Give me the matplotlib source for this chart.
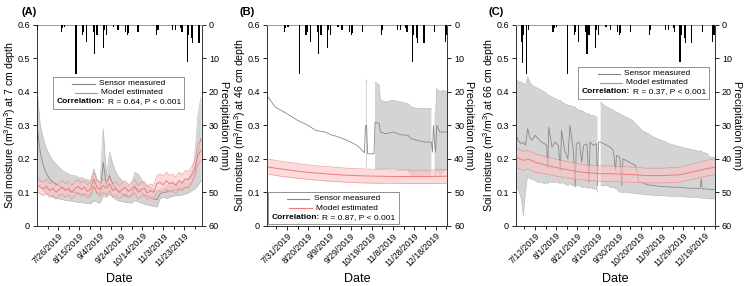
import numpy as np
import pandas as pd
import matplotlib
matplotlib.use("Agg")
import matplotlib.pyplot as plt
import matplotlib.dates as mdates
from matplotlib.lines import Line2D
from matplotlib.ticker import FuncFormatter, FixedLocator
from matplotlib.offsetbox import AnchoredOffsetbox, VPacker, HPacker, TextArea, DrawingArea

plt.rcParams['font.family'] = ['Liberation Sans', 'DejaVu Sans']
plt.rcParams['mathtext.fontset'] = 'custom'
plt.rcParams['mathtext.rm'] = 'Liberation Sans'

# ---- precipitation (mm), shared by all panels
precip_dates = ["2019-06-29", "2019-06-30", "2019-07-01", "2019-07-04", "2019-07-06",
                "2019-07-29", "2019-07-30", "2019-08-01", "2019-08-12", "2019-08-18",
                "2019-08-19", "2019-08-22", "2019-08-29", "2019-08-30", "2019-09-01",
                "2019-09-07", "2019-09-08", "2019-09-10", "2019-09-17", "2019-09-21",
                "2019-09-28", "2019-09-30", "2019-10-01", "2019-10-10", "2019-10-28",
                "2019-10-29", "2019-11-12", "2019-11-15", "2019-11-20", "2019-11-21",
                "2019-11-26", "2019-11-27", "2019-11-30", "2019-12-01", "2019-12-07",
                "2019-12-17", "2019-12-27", "2019-12-28"]
precip_mm = [5.0, 11.5, 3.0, 14.5, 1.5, 2.0, 0.8, 0.5, 14.5, 3.0,
             2.0, 5.0, 2.0, 8.7, 3.0, 7.0, 1.5, 3.0, 0.5, 1.5,
             2.0, 3.0, 2.5, 2.0, 3.0, 1.5, 1.5, 1.5, 1.0, 2.0,
             11.0, 3.0, 4.0, 5.5, 5.5, 2.0, 5.0, 3.0]

# ---- panel A: 7 cm depth (every 3 days from 7/6)
a_start, a_step = "2019-07-06", 3
a_sensor_mean = [0.30, 0.22, 0.18, 0.155, 0.14, 0.13, 0.125, 0.12, 0.115, 0.11,
                 0.105, 0.10, 0.10, 0.098, 0.095, 0.093, 0.092, 0.09, 0.12, 0.10,
                 0.095, 0.19, 0.12, 0.15, 0.125, 0.11, 0.10, 0.095, 0.09, 0.088,
                 0.09, 0.115, 0.11, 0.10, 0.092, 0.088, 0.085, 0.08, 0.078, 0.095,
                 0.10, 0.10, 0.105, 0.105, 0.108, 0.11, 0.11, 0.115, 0.118, 0.13,
                 0.15, 0.22, 0.26]
a_sensor_lo = [0.14, 0.12, 0.105, 0.095, 0.09, 0.085, 0.082, 0.080, 0.078, 0.076,
               0.075, 0.073, 0.072, 0.070, 0.070, 0.068, 0.067, 0.066, 0.075, 0.070,
               0.068, 0.090, 0.085, 0.095, 0.085, 0.078, 0.074, 0.072, 0.070, 0.068,
               0.068, 0.075, 0.072, 0.068, 0.065, 0.062, 0.060, 0.058, 0.056, 0.080,
               0.085, 0.082, 0.085, 0.088, 0.090, 0.090, 0.092, 0.095, 0.098, 0.105,
               0.110, 0.120, 0.135]
a_sensor_hi = [0.41, 0.30, 0.26, 0.23, 0.21, 0.195, 0.185, 0.175, 0.165, 0.160,
               0.155, 0.150, 0.150, 0.145, 0.145, 0.140, 0.138, 0.135, 0.170, 0.140,
               0.130, 0.290, 0.150, 0.220, 0.185, 0.160, 0.145, 0.135, 0.125, 0.120,
               0.125, 0.160, 0.155, 0.140, 0.125, 0.120, 0.115, 0.110, 0.105, 0.110,
               0.115, 0.120, 0.125, 0.125, 0.125, 0.128, 0.130, 0.135, 0.140, 0.160,
               0.200, 0.330, 0.385]
a_model_mean = [0.125, 0.115, 0.110, 0.118, 0.105, 0.112, 0.100, 0.108, 0.115, 0.105,
                0.112, 0.100, 0.110, 0.118, 0.108, 0.115, 0.102, 0.110, 0.140, 0.115,
                0.108, 0.120, 0.112, 0.125, 0.105, 0.112, 0.100, 0.108, 0.115, 0.102,
                0.110, 0.118, 0.100, 0.108, 0.112, 0.098, 0.105, 0.100, 0.125, 0.130,
                0.122, 0.135, 0.125, 0.130, 0.120, 0.135, 0.128, 0.140, 0.138, 0.150,
                0.170, 0.210, 0.225]
a_model_lo = [0.105, 0.095, 0.090, 0.098, 0.085, 0.092, 0.080, 0.088, 0.095, 0.085,
              0.092, 0.080, 0.090, 0.098, 0.088, 0.095, 0.082, 0.090, 0.118, 0.095,
              0.088, 0.100, 0.092, 0.105, 0.085, 0.092, 0.080, 0.088, 0.095, 0.082,
              0.090, 0.098, 0.080, 0.088, 0.092, 0.078, 0.085, 0.080, 0.100, 0.105,
              0.098, 0.110, 0.100, 0.105, 0.096, 0.110, 0.104, 0.115, 0.112, 0.125,
              0.145, 0.185, 0.195]
a_model_hi = [0.145, 0.135, 0.130, 0.140, 0.125, 0.132, 0.120, 0.128, 0.135, 0.125,
              0.132, 0.120, 0.130, 0.138, 0.128, 0.135, 0.122, 0.130, 0.160, 0.135,
              0.128, 0.140, 0.132, 0.145, 0.125, 0.132, 0.120, 0.128, 0.135, 0.122,
              0.130, 0.138, 0.120, 0.128, 0.132, 0.118, 0.125, 0.120, 0.150, 0.155,
              0.148, 0.160, 0.150, 0.155, 0.145, 0.160, 0.152, 0.165, 0.163, 0.175,
              0.195, 0.245, 0.258]
a_ticks = ["2019-07-26", "2019-08-15", "2019-09-04", "2019-09-24", "2019-10-14",
           "2019-11-03", "2019-11-23"]

# ---- panel B: 46 cm depth
b_sensor_dates = ["2019-07-12", "2019-07-20", "2019-07-31", "2019-08-10", "2019-08-20",
                  "2019-08-27", "2019-09-05", "2019-09-12", "2019-09-15", "2019-09-22",
                  "2019-09-29", "2019-10-05", "2019-10-10", "2019-10-12", "2019-10-13",
                  "2019-10-14", "2019-10-15", "2019-10-16", "2019-10-21", "2019-10-22",
                  "2019-10-26", "2019-10-27", "2019-11-01", "2019-11-08", "2019-11-15",
                  "2019-11-22", "2019-11-25", "2019-12-01", "2019-12-08", "2019-12-14",
                  "2019-12-15", "2019-12-16", "2019-12-17", "2019-12-18", "2019-12-19",
                  "2019-12-22", "2019-12-25", "2019-12-29"]
b_sensor_mean = [0.39, 0.355, 0.335, 0.315, 0.30, 0.285, 0.28, 0.27, 0.268, 0.26,
                 0.25, 0.24, 0.225, 0.218, 0.30, 0.30, 0.215, 0.215, 0.215, 0.31,
                 0.305, 0.28, 0.275, 0.28, 0.272, 0.27, 0.26, 0.255, 0.25, 0.25,
                 0.22, 0.30, 0.25, 0.22, 0.30, 0.28, 0.28, 0.28]
b_sensor_lo = [np.nan] * 14 + [0.175, 0.175, np.nan, np.nan, np.nan, 0.17,
                               0.17, 0.17, 0.17, 0.17, 0.168, 0.168, 0.15, 0.147, 0.146, 0.146,
                               np.nan, np.nan, 0.146, 0.146, 0.17, 0.15, 0.16, 0.17]
b_sensor_hi = [np.nan] * 14 + [0.435, 0.435, np.nan, np.nan, np.nan, 0.43,
                               0.42, 0.375, 0.37, 0.375, 0.37, 0.365, 0.355, 0.35, 0.35, 0.35,
                               np.nan, np.nan, 0.335, 0.335, 0.41, 0.40, 0.405, 0.40]
b_model_dates = ["2019-07-12", "2019-07-25", "2019-08-10", "2019-08-25", "2019-09-10",
                 "2019-09-25", "2019-10-10", "2019-10-25", "2019-11-10", "2019-11-25",
                 "2019-12-10", "2019-12-29"]
b_model_mean = [0.176, 0.170, 0.163, 0.158, 0.154, 0.151, 0.149, 0.148, 0.147, 0.147, 0.147, 0.148]
b_model_lo = [0.155, 0.148, 0.142, 0.137, 0.133, 0.130, 0.128, 0.127, 0.127, 0.126, 0.126, 0.127]
b_model_hi = [0.200, 0.193, 0.186, 0.180, 0.176, 0.172, 0.170, 0.168, 0.166, 0.166, 0.166, 0.168]
b_ticks = ["2019-07-31", "2019-08-20", "2019-09-09", "2019-09-29", "2019-10-19",
           "2019-11-08", "2019-11-28", "2019-12-18"]

# ---- panel C: 66 cm depth
c_sensor_dates = ["2019-06-24", "2019-06-27", "2019-06-29", "2019-07-01", "2019-07-03",
                  "2019-07-05", "2019-07-07", "2019-07-09", "2019-07-12", "2019-07-15",
                  "2019-07-18", "2019-07-21", "2019-07-23", "2019-07-24", "2019-07-25",
                  "2019-07-28", "2019-07-31", "2019-08-03", "2019-08-05", "2019-08-06",
                  "2019-08-09", "2019-08-12", "2019-08-14", "2019-08-17", "2019-08-19",
                  "2019-08-20", "2019-08-23", "2019-08-25", "2019-08-27", "2019-08-30",
                  "2019-09-01", "2019-09-02", "2019-09-05", "2019-09-08", "2019-09-09",
                  "2019-09-10", "2019-09-11", "2019-09-12", "2019-09-15", "2019-09-18",
                  "2019-09-21", "2019-09-24", "2019-09-26", "2019-09-27", "2019-09-30",
                  "2019-10-02", "2019-10-03", "2019-10-06", "2019-10-09", "2019-10-12",
                  "2019-10-15", "2019-10-18", "2019-10-21", "2019-10-24", "2019-10-27",
                  "2019-11-01", "2019-11-06", "2019-11-11", "2019-11-16", "2019-11-21",
                  "2019-11-26", "2019-12-01", "2019-12-06", "2019-12-11", "2019-12-15",
                  "2019-12-16", "2019-12-17", "2019-12-22", "2019-12-24", "2019-12-29"]
c_sensor_mean = [0.27, 0.25, 0.245, 0.25, 0.24, 0.29, 0.265, 0.255, 0.27, 0.26,
                 0.25, 0.245, 0.24, 0.17, 0.295, 0.235, 0.25, 0.24, 0.165, 0.285,
                 0.225, 0.20, 0.30, 0.23, 0.12, 0.245, 0.25, 0.19, 0.24, 0.245,
                 0.13, 0.25, 0.24, 0.245, 0.12, 0.25, 0.25, 0.25, 0.245, 0.24,
                 0.235, 0.225, 0.165, 0.21, 0.205, 0.12, 0.20, 0.195, 0.19, 0.185,
                 0.18, 0.13, 0.13, 0.125, 0.122, 0.12, 0.118, 0.117, 0.116, 0.115,
                 0.115, 0.113, 0.112, 0.112, 0.111, 0.14, 0.11, 0.11, 0.108, 0.108]
c_sensor_lo = [0.12, 0.10, 0.08, 0.03, 0.10, 0.15, 0.14, 0.14, 0.135, 0.13,
               0.13, 0.125, 0.13, 0.125, 0.13, 0.13, 0.13, 0.13, 0.125, 0.13,
               0.125, 0.12, 0.125, 0.12, 0.115, 0.12, 0.12, 0.115, 0.115, 0.115,
               0.11, 0.115, 0.11, 0.11, 0.10, np.nan, np.nan, 0.12, 0.12, 0.12,
               0.115, 0.115, 0.11, 0.11, 0.10, 0.10, 0.10, 0.10, 0.098, 0.097,
               0.096, 0.095, 0.094, 0.093, 0.092, 0.091, 0.09, 0.089, 0.088, 0.088,
               0.087, 0.086, 0.085, 0.084, 0.083, 0.083, 0.082, 0.081, 0.08, 0.08]
c_sensor_hi = [0.44, 0.43, 0.43, 0.425, 0.42, 0.445, 0.43, 0.42, 0.415, 0.41,
               0.405, 0.40, 0.395, 0.39, 0.39, 0.385, 0.38, 0.375, 0.375, 0.37,
               0.365, 0.36, 0.36, 0.355, 0.355, 0.35, 0.345, 0.345, 0.34, 0.335,
               0.335, 0.33, 0.33, 0.325, 0.32, np.nan, np.nan, 0.37, 0.36, 0.355,
               0.35, 0.345, 0.34, 0.34, 0.335, 0.33, 0.33, 0.325, 0.32, 0.315,
               0.305, 0.295, 0.285, 0.28, 0.275, 0.265, 0.258, 0.252, 0.245, 0.24,
               0.236, 0.232, 0.228, 0.225, 0.222, 0.225, 0.22, 0.215, 0.205, 0.205]
c_model_dates = ["2019-06-24", "2019-07-01", "2019-07-05", "2019-07-12", "2019-07-26",
                 "2019-08-10", "2019-08-25", "2019-09-10", "2019-09-25", "2019-10-10",
                 "2019-10-25", "2019-11-10", "2019-11-25", "2019-12-10", "2019-12-20",
                 "2019-12-29"]
c_model_mean = [0.205, 0.195, 0.200, 0.190, 0.178, 0.168, 0.160, 0.156, 0.155, 0.153,
                0.150, 0.150, 0.152, 0.162, 0.170, 0.175]
c_model_lo = [0.175, 0.165, 0.170, 0.160, 0.152, 0.143, 0.137, 0.133, 0.132, 0.130,
              0.128, 0.128, 0.130, 0.140, 0.148, 0.152]
c_model_hi = [0.232, 0.222, 0.225, 0.215, 0.203, 0.193, 0.183, 0.179, 0.178, 0.176,
              0.172, 0.172, 0.175, 0.186, 0.195, 0.200]
c_ticks = ["2019-07-12", "2019-08-01", "2019-08-21", "2019-09-10", "2019-09-30",
           "2019-10-20", "2019-11-09", "2019-11-29", "2019-12-19"]

sensor_fill = '#d4d4d4'
sensor_line = '#888888'
model_fill = '#f9c4c4'
model_line = '#f07a7a'

FIG_W, FIG_H = 745, 286


def legend_box(ax, r_text, loc, anchor):
    rows = []
    for color, label in [(sensor_line, "Sensor measured"), (model_line, "Model estimated")]:
        da = DrawingArea(16, 5, 0, 0)
        da.add_artist(Line2D([0, 16], [2.5, 2.5], color=color, lw=0.8))
        rows.append(HPacker(children=[da, TextArea(label, textprops=dict(fontsize=6))],
                            align="center", pad=0, sep=3))
    corr = HPacker(children=[TextArea("Correlation:", textprops=dict(fontsize=6, weight='bold')),
                             TextArea(r_text, textprops=dict(fontsize=6))],
                   align="baseline", pad=0, sep=2)
    rows.append(corr)
    box = VPacker(children=rows, align="center", pad=0, sep=1.5)
    ab = AnchoredOffsetbox(loc=loc, child=box, pad=0.25, borderpad=0, frameon=True,
                           bbox_to_anchor=anchor, bbox_transform=ax.transAxes)
    ab.patch.set_edgecolor('#808080')
    ab.patch.set_linewidth(0.6)
    ab.patch.set_boxstyle("square,pad=0")
    ax.add_artist(ab)


def panel(rect, title, title_x, s_dates, s_mean, s_lo, s_hi,
          m_dates, m_mean, m_lo, m_hi, ticks, xlim, depth, r_text, loc, anchor):
    ax = fig.add_axes(rect)
    w_px = rect[2] * FIG_W
    s_dates = pd.to_datetime(s_dates)
    m_dates = pd.to_datetime(m_dates)
    ax.fill_between(s_dates, s_lo, s_hi, color=sensor_fill, lw=0, zorder=1)
    ax.plot(s_dates, s_lo, color='#b5b5b5', lw=0.4, zorder=1.5)
    ax.plot(s_dates, s_hi, color='#b5b5b5', lw=0.4, zorder=1.5)
    ax.plot(s_dates, s_mean, color=sensor_line, lw=0.6, zorder=2)
    ax.fill_between(m_dates, m_lo, m_hi, color=model_fill, alpha=0.6, lw=0, zorder=3)
    ax.plot(m_dates, m_lo, color=model_line, lw=0.5, alpha=0.7, zorder=3.5)
    ax.plot(m_dates, m_hi, color=model_line, lw=0.5, alpha=0.7, zorder=3.5)
    ax.plot(m_dates, m_mean, color=model_line, lw=0.7, zorder=4)

    ax.set_ylim(0, 0.6)
    ax.set_yticks(np.arange(0, 0.61, 0.1))
    ax.yaxis.set_major_formatter(FuncFormatter(lambda v, p: "0" if abs(v) < 1e-9 else f"{v:.1f}"))
    ax.set_xlim(pd.to_datetime(xlim[0]), pd.to_datetime(xlim[1]))
    tk = pd.to_datetime(ticks)
    ax.xaxis.set_major_locator(FixedLocator(mdates.date2num(tk)))
    minor = list(tk - pd.Timedelta(days=10)) + list(tk + pd.Timedelta(days=10))
    ax.xaxis.set_minor_locator(FixedLocator(mdates.date2num(pd.DatetimeIndex(minor))))
    ax.xaxis.set_major_formatter(FuncFormatter(
        lambda v, p: (lambda d: f"{d.month}/{d.day}/{d.year}")(mdates.num2date(v))))
    ax.tick_params(axis='x', which='major', labelsize=6.3, rotation=45, length=3, width=0.6, pad=1)
    ax.tick_params(axis='x', which='minor', length=2, width=0.6)
    ax.tick_params(axis='y', labelsize=6.5, length=3, width=0.6, pad=2)
    for lab in ax.get_xticklabels():
        lab.set_ha('right')
        lab.set_rotation_mode('anchor')
    ax.set_xlabel("Date", fontsize=9, labelpad=3)
    ax.set_ylabel(f"Soil moisture (m$^3$/m$^3$) at {depth} cm depth", fontsize=7.6, va='center')
    ax.yaxis.set_label_coords(-27 / w_px, 0.5)

    ax2 = ax.twinx()
    ax2.bar(pd.to_datetime(precip_dates), precip_mm, width=1.2, color='black', lw=0, zorder=5)
    ax2.set_ylim(60, 0)
    ax2.set_yticks(np.arange(0, 61, 10))
    ax2.tick_params(axis='y', labelsize=6.5, length=3, width=0.6, pad=2)
    ax2.set_ylabel("Precipitation (mm)", fontsize=7.8, rotation=270)
    ax2.yaxis.label.set_va('center')
    ax2.yaxis.set_label_coords(1 + 22 / w_px, 0.5)
    for a in (ax, ax2):
        for s in a.spines.values():
            s.set_linewidth(0.6)
            s.set_color('#333333')
        a.spines['top'].set_color('#9a9a9a')
    legend_box(ax2, r_text, loc, anchor)
    fig.text(title_x, 0.975, title, fontsize=8, weight='bold', va='top')
    return ax, ax2


fig = plt.figure(figsize=(FIG_W / 100, FIG_H / 100), dpi=100)

a_dates = pd.date_range(a_start, periods=len(a_sensor_mean), freq=f"{a_step}D")
panel([0.0497, 0.2108, 0.2215, 0.7018], "(A)", 0.029,
      a_dates, a_sensor_mean, a_sensor_lo, a_sensor_hi,
      a_dates, a_model_mean, a_model_lo, a_model_hi,
      a_ticks, ("2019-07-06", "2019-12-10"), 7,
      "R = 0.64, P < 0.001", "upper left", (0.097, 0.742))
panel([0.358, 0.2108, 0.2424, 0.7018], "(B)", 0.321,
      b_sensor_dates, b_sensor_mean, b_sensor_lo, b_sensor_hi,
      b_model_dates, b_model_mean, b_model_lo, b_model_hi,
      b_ticks, ("2019-07-12", "2019-12-29"), 46,
      "R = 0.87, P < 0.001", "lower left", (0.007, 0.008))
panel([0.6926, 0.2108, 0.2671, 0.7018], "(C)", 0.656,
      c_sensor_dates, c_sensor_mean, c_sensor_lo, c_sensor_hi,
      c_model_dates, c_model_mean, c_model_lo, c_model_hi,
      c_ticks, ("2019-06-24", "2019-12-29"), 66,
      "R = 0.37, P < 0.001", "upper left", (0.313, 0.792))

fig.savefig("out.png", dpi=100)
